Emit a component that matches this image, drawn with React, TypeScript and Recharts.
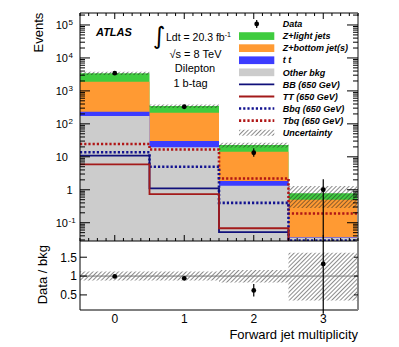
import React from "react";
import { ComposedChart, Area, Line, Scatter, ErrorBar, XAxis, YAxis, ReferenceLine } from "recharts";

const FONT = '"Liberation Sans", Arial, Helvetica, sans-serif';

const Y_MIN = 0.0279;
const Y_MAX = 231000;
const R_MIN = 0.1;
const R_MAX = 1.93;

const binEdges = [-0.5, 0.5, 1.5, 2.5, 3.5];
const binCenters = [0, 1, 2, 3];
const xTicks = [0, 1, 2, 3];

// backgrounds, events per bin
const otherBkg = [174, 19.6, 1.33, 0.035];
const ttbar = [57, 10.4, 0.53, 0.001];
const zBottom = [1674, 188, 12.4, 0.46];
const zLight = [1531, 129, 8.7, 0.29];

// signals (650 GeV)
const sigBB = [10.8, 1.1, 0.052, 0.01];
const sigTT = [5.9, 0.74, 0.068, 0.01];
const sigBbq = [13.7, 5.0, 0.4, 0.029];
const sigTbq = [24.5, 16.6, 2.2, 0.19];

const dataEvents = [3450, 330, 13.3, 1];
const dataErrLo = [59, 18, 3.2, 0.99];
const dataErrHi = [59, 18, 4.8, 1.1];

const uncLo = [3050, 305, 19.3, 0.28];
const uncHi = [3820, 390, 26.6, 1.31];

// ratio panel
const ratio = [0.99, 0.94, 0.62, 1.32];
const ratioErrLo = [0.02, 0.05, 0.16, 1.32];
const ratioErrHi = [0.02, 0.05, 0.17, 1.5];
const ratioUncLo = [0.88, 0.88, 0.83, 0.35];
const ratioUncHi = [1.12, 1.12, 1.16, 1.62];

const decadeTicks = [0.1, 1, 10, 100, 1000, 10000, 100000];
const minorMult = [2, 3, 4, 5, 6, 7, 8, 9];
const minorDecades = [0.01, 0.1, 1, 10, 100, 1000, 10000, 100000];
const ratioTicks = [0.5, 1, 1.5];

const logAllTicks = [...decadeTicks, ...minorDecades.flatMap((d) => minorMult.map((m) => m * d))]
  .filter((v) => v > Y_MIN && v < Y_MAX)
  .sort((a, b) => a - b);
const xAllTicks = Array.from({ length: 33 }, (_, i) => -0.5 + i * 0.125);

const C = {
  zl: "#3fcc3f",
  zb: "#ff9a33",
  tt: "#3c3cff",
  other: "#cccccc",
  bb: "#10107a",
  ttSig: "#a31a1a",
  bbq: "#121290",
  tbq: "#b01616",
};

const stepRows = binEdges.map((x, i) => {
  const b = Math.min(i, binCenters.length - 1);
  const other = otherBkg[b];
  const tt = other + ttbar[b];
  const zb = tt + zBottom[b];
  const zl = zb + zLight[b];
  return {
    x,
    other,
    tt,
    zb,
    zl,
    unc: [uncLo[b], uncHi[b]],
    bb: sigBB[b],
    ttSig: sigTT[b],
    bbq: sigBbq[b],
    tbq: sigTbq[b],
    band: [ratioUncLo[b], ratioUncHi[b]],
  };
});

const dataPts = binCenters.map((x, i) => ({ x, y: dataEvents[i], err: [dataErrLo[i], dataErrHi[i]] }));
const ratioPts = binCenters.map((x, i) => ({ x, y: ratio[i], err: [ratioErrLo[i], ratioErrHi[i]] }));

const legendRows = [
  { label: "Data", kind: "data" },
  { label: "Z+light jets", kind: "box", color: C.zl },
  { label: "Z+bottom jet(s)", kind: "box", color: C.zb },
  { label: "t t", kind: "box", color: C.tt },
  { label: "Other bkg", kind: "box", color: C.other },
  { label: "BB (650 GeV)", kind: "line", color: C.bb },
  { label: "TT (650 GeV)", kind: "line", color: C.ttSig },
  { label: "Bbq (650 GeV)", kind: "dot", color: C.bbq },
  { label: "Tbq (650 GeV)", kind: "dot", color: C.tbq },
  { label: "Uncertainty", kind: "hatch" },
];

const isDecade = (v: number) => Math.abs(Math.log10(v) - Math.round(Math.log10(v))) < 1e-6;
const isInt = (v: number) => Math.abs(v - Math.round(v)) < 1e-6;
const lbl = { fontFamily: FONT, fontSize: 11, fill: "#000" };

// left log axis: inward tick marks + 10^n labels
const LeftLogTick = (p: any) => {
  const { x, y, payload } = p;
  const v = payload.value;
  const major = isDecade(v);
  const e = Math.round(Math.log10(v));
  let label: React.ReactNode = null;
  if (major && e === 0)
    label = (
      <text x={x - 7.3} y={y} dy="0.36em" textAnchor="end" style={lbl}>
        1
      </text>
    );
  else if (major && e === 1)
    label = (
      <text x={x - 12} y={y} dy="0.36em" textAnchor="end" style={lbl}>
        10
      </text>
    );
  else if (major)
    label = (
      <g>
        <text x={x - 12} y={y} dy="0.36em" textAnchor="end" style={lbl}>
          10
        </text>
        <text x={x - 11.5} y={y + 0.5} textAnchor="start" style={{ ...lbl, fontSize: 8 }}>
          {e < 0 ? "-" : ""}
          {Math.abs(e)}
        </text>
      </g>
    );
  return (
    <g>
      <line x1={x} x2={x + (major ? 10 : 5)} y1={y} y2={y} stroke="#000" />
      {label}
    </g>
  );
};

const RightLogTick = (p: any) => {
  const { x, y, payload } = p;
  const len = isDecade(payload.value) ? 11 : 5;
  return <line x1={x} x2={x - len} y1={y} y2={y} stroke="#000" />;
};

const TopTick = (p: any) => {
  const { x, y, payload } = p;
  const len = isInt(payload.value) ? 6 : 3;
  return <line x1={x} x2={x} y1={y} y2={y + len} stroke="#000" />;
};

const BottomTick = (p: any) => {
  const { x, y, payload } = p;
  const len = isInt(payload.value) ? 6 : 3;
  return <line x1={x} x2={x} y1={y} y2={y - len} stroke="#000" />;
};

const RatioLeftTick = (p: any) => {
  const { x, y, payload } = p;
  return (
    <g>
      <line x1={x} x2={x + 7} y1={y} y2={y} stroke="#000" />
      <text x={x - 3} y={y} dy="0.36em" textAnchor="end" style={{ ...lbl, fontSize: 12 }}>
        {String(payload.value)}
      </text>
    </g>
  );
};

const RatioRightTick = (p: any) => {
  const { x, y } = p;
  return <line x1={x} x2={x - 4} y1={y} y2={y} stroke="#000" />;
};

const DataDot = (p: any) => <circle cx={p.cx} cy={p.cy} r={2.4} fill="#000" />;

const hatch = (id: string) => (
  <defs>
    <pattern id={id} width={3} height={3} patternUnits="userSpaceOnUse" patternTransform="rotate(45)">
      <line x1={0} y1={0} x2={0} y2={3} stroke="#222" strokeWidth={1.05} />
    </pattern>
  </defs>
);

const xCommon = { dataKey: "x", type: "number" as const, domain: [-0.5, 3.5], allowDataOverflow: true, interval: 0 as const };
const yLog = { type: "number" as const, scale: "log" as const, domain: [Y_MIN, Y_MAX], allowDataOverflow: true, interval: 0 as const };
const yLin = { type: "number" as const, domain: [R_MIN, R_MAX], allowDataOverflow: true, interval: 0 as const };
const noTick = { tickLine: false, tickSize: 0, tickMargin: 0 };

export default function App() {
  return (
    <div style={{ position: "absolute", left: 0, top: 0, width: 399, height: 347, background: "#fff", fontFamily: FONT }}>
      <div style={{ position: "absolute", left: 0, top: 0 }}>
        <ComposedChart width={399} height={242} data={stepRows} margin={{ top: 0, right: 0, bottom: 0, left: 0 }}>
          {hatch("hatchMain")}
          <Area type="stepAfter" dataKey="zl" fill={C.zl} fillOpacity={1} stroke="none" baseValue={Y_MIN} dot={false} activeDot={false} isAnimationActive={false} />
          <Area type="stepAfter" dataKey="zb" fill={C.zb} fillOpacity={1} stroke="none" baseValue={Y_MIN} dot={false} activeDot={false} isAnimationActive={false} />
          <Area type="stepAfter" dataKey="tt" fill={C.tt} fillOpacity={1} stroke="none" baseValue={Y_MIN} dot={false} activeDot={false} isAnimationActive={false} />
          <Area type="stepAfter" dataKey="other" fill={C.other} fillOpacity={1} stroke="none" baseValue={Y_MIN} dot={false} activeDot={false} isAnimationActive={false} />
          <Area type="stepAfter" dataKey="unc" fill="url(#hatchMain)" fillOpacity={1} stroke="none" dot={false} activeDot={false} isAnimationActive={false} />
          <Line type="stepAfter" dataKey="tbq" stroke={C.tbq} strokeWidth={2.6} strokeDasharray="2.2 2" dot={false} activeDot={false} isAnimationActive={false} />
          <Line type="stepAfter" dataKey="bbq" stroke={C.bbq} strokeWidth={2.6} strokeDasharray="2.2 2" dot={false} activeDot={false} isAnimationActive={false} />
          <Line type="stepAfter" dataKey="bb" stroke={C.bb} strokeWidth={1.8} dot={false} activeDot={false} isAnimationActive={false} />
          <Line type="stepAfter" dataKey="ttSig" stroke={C.ttSig} strokeWidth={1.8} dot={false} activeDot={false} isAnimationActive={false} />
          <Scatter data={dataPts} dataKey="y" shape={DataDot} isAnimationActive={false}>
            <ErrorBar dataKey="err" direction="y" width={0} stroke="#000" strokeWidth={1.2} />
          </Scatter>

          <XAxis {...xCommon} {...noTick} ticks={xAllTicks} height={1} tick={BottomTick} axisLine={{ stroke: "#000" }} />
          <XAxis {...xCommon} {...noTick} xAxisId="top" orientation="top" ticks={xAllTicks} height={13} tick={TopTick} axisLine={{ stroke: "#000" }} />
          <YAxis {...yLog} {...noTick} dataKey="y" ticks={logAllTicks} width={80} tick={LeftLogTick} axisLine={{ stroke: "#000" }} />
          <YAxis {...yLog} {...noTick} yAxisId="right" orientation="right" ticks={logAllTicks} width={41} tick={RightLogTick} axisLine={{ stroke: "#888", strokeWidth: 2 }} />
        </ComposedChart>
      </div>

      <div style={{ position: "absolute", left: 0, top: 241 }}>
        <ComposedChart width={399} height={106} data={stepRows} margin={{ top: 0, right: 0, bottom: 0, left: 0 }}>
          {hatch("hatchRatio")}
          <Area type="stepAfter" dataKey="band" fill="url(#hatchRatio)" fillOpacity={1} stroke="none" dot={false} activeDot={false} isAnimationActive={false} />
          <ReferenceLine y={1} stroke="#777" strokeWidth={1} />
          <Scatter data={ratioPts} dataKey="y" shape={DataDot} isAnimationActive={false}>
            <ErrorBar dataKey="err" direction="y" width={0} stroke="#000" strokeWidth={1.2} />
          </Scatter>

          <XAxis {...xCommon} ticks={xTicks} height={37} tickLine={false} tickSize={0} tickMargin={4} tick={{ fill: "#000", fontSize: 12, fontFamily: FONT }} axisLine={{ stroke: "#000" }} />
          <YAxis {...yLin} {...noTick} dataKey="y" ticks={ratioTicks} width={80} tick={RatioLeftTick} axisLine={{ stroke: "#000" }} />
          <YAxis {...yLin} {...noTick} yAxisId="right" orientation="right" ticks={ratioTicks} width={41} tick={RatioRightTick} axisLine={{ stroke: "#888", strokeWidth: 2 }} />
        </ComposedChart>
      </div>

      <svg width={399} height={347} style={{ position: "absolute", left: 0, top: 0, pointerEvents: "none" }} fontFamily={FONT}>
        {hatch("hatchLegend")}
        <text transform="translate(43.3,12.7) rotate(-90)" textAnchor="end" fontSize={13}>Events</text>
        <text transform="translate(47,245) rotate(-90)" textAnchor="end" fontSize={13}>Data / bkg</text>
        <text x={358} y={339} textAnchor="end" fontSize={13}>Forward jet multiplicity</text>

        <text x={96} y={36} fontSize={11} fontWeight="bold" fontStyle="italic">ATLAS</text>
        <text x={153} y={44} fontSize={24} fontFamily="DejaVu Sans">∫</text>
        <text x={166} y={41} fontSize={10.5}>
          Ldt = 20.3 fb<tspan dy={-4.5} fontSize={7}>-1</tspan>
        </text>
        <text x={195.5} y={58.3} textAnchor="middle" fontSize={11}>√s = 8 TeV</text>
        <text x={195} y={72.3} textAnchor="middle" fontSize={11}>Dilepton</text>
        <text x={190.5} y={86.7} textAnchor="middle" fontSize={11}>1 b-tag</text>

        {legendRows.map((r, i) => {
          const cy = 24 + i * 12.08;
          let sw: React.ReactNode = null;
          if (r.kind === "data")
            sw = (
              <g>
                <line x1={256.7} x2={256.7} y1={cy - 4} y2={cy + 4} stroke="#000" strokeWidth={1.2} />
                <circle cx={256.7} cy={cy} r={2.4} fill="#000" />
              </g>
            );
          else if (r.kind === "box") sw = <rect x={239} y={cy - 3.85} width={35.3} height={7.7} fill={r.color} />;
          else if (r.kind === "line") sw = <line x1={239} x2={274.3} y1={cy} y2={cy} stroke={r.color} strokeWidth={1.8} />;
          else if (r.kind === "dot")
            sw = <line x1={239} x2={274.3} y1={cy} y2={cy} stroke={r.color} strokeWidth={2.6} strokeDasharray="2.2 2" />;
          else sw = <rect x={239} y={cy - 3} width={35.3} height={6} fill="url(#hatchLegend)" />;
          return (
            <g key={r.label}>
              {sw}
              <text x={282.7} y={cy + 3.2} fontSize={9} fontWeight="bold" fontStyle="italic">
                {r.label}
              </text>
            </g>
          );
        })}
      </svg>
    </div>
  );
}
